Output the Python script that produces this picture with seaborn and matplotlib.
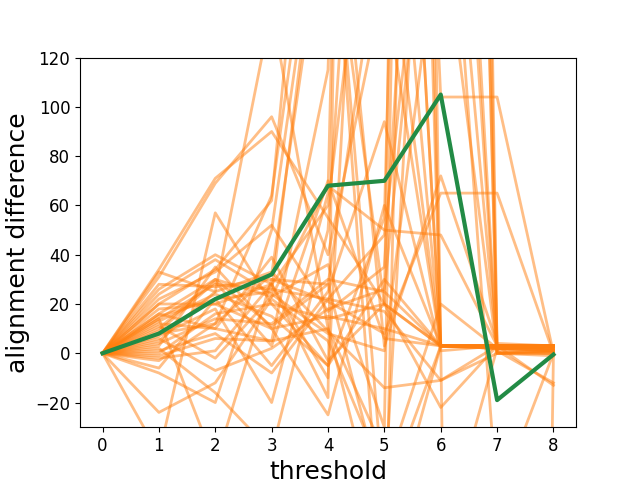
import numpy as np
import pandas as pd
import matplotlib
matplotlib.use("Agg")
import matplotlib.pyplot as plt
import seaborn as sns

thresholds = [0, 1, 2, 3, 4, 5, 6, 7, 8]

runs = [
    [0, 34, 71, 90, 55, 20, 3, 3, 3],
    [0, 31, 69, 96, 40, 150, 3, 2, 2],
    [0, 26, 40, 28, 60, 250, 3, 2, 1],
    [0, 22, 33, 52, 17, 35, 400, 0, -1],
    [0, 16, 30, 23, 68, 50, 48, 3, 2],
    [0, 14, 28, 26, 22, 17, -11, 0, 0],
    [0, 12, 10, 39, -3, 20, 1500, 1, -12],
    [0, 5, 25, 33, 9, -14, -11, 3, 3],
    [0, 3, 35, 10, -25, 60, 3, 3, 3],
    [0, 0, 16, 20, 14, 20, -22, 3, 3],
    [0, -1, 6, 5, 115, 800, 3, 2, 2],
    [0, -3, 12, 64, 230, 3, 72, 4, 3],
    [0, -6, 22, -5, 25, 94, 1, 3, 3],
    [0, -24, -12, 22, 5, -50, 20, 2, 1],
    [0, -41, 57, 20, -5, 30, 3, 3, 2],
    [0, 14, -45, 30, 28, 180, 3, 3, 3],
    [0, 20, 34, 62, 300, 600, 104, 104, 0],
    [0, 28, 27, 30, 21, 8, 65, 65, 0],
    [0, 10, 30, 11, 28, -60, 350, 0, 1],
    [0, 6, -7, 2, 18, 26, 250, 1, 0],
    [0, 2, -16, -40, 50, 400, 3, 3, 2],
    [0, 18, 20, 28, -18, 1500, 3, 3, 3],
    [0, 24, 38, 24, 8, 1, 180, 0, 1],
    [0, 9, 29, 3, 70, 6, 3, 2, 3],
    [0, -2, 1, 28, -10, 400, 3, 3, 3],
    [0, 33, 25, 140, 10, -80, 3, 3, 2],
    [0, 4, 14, 12, 30, 25, 3, -1500, 0],
    [0, 11, -2, 23, 36, -30, 1200, 2, 1],
    [0, 7, 18, -20, 65, 1000, 3, 3, 3],
    [0, 1, 8, -8, 22, 48, 250, -60, 0],
    [0, -8, -20, 50, 210, -100, 900, 0, 0],
    [0, 13, 24, 15, -5, 55, 900, 2, 1],
    [0, 15, 22, 25, 210, -60, 3, 3, 3],
    [0, 8, 12, 32, 190, 20, 3, 3, 3],
    [0, 16, 10, 5, 10, -40, -80, 2, 3],
    [0, 20, 20, 10, 15, 10, 3, 3, -13],
]

mean_curve = [0, 8, 22, 32, 68, 70, 105, -19, -0.5]

rows = []
for i, r in enumerate(runs):
    for t, v in zip(thresholds, r):
        rows.append({"run": i, "threshold": t, "diff": v})
df = pd.DataFrame(rows)
mdf = pd.DataFrame({"threshold": thresholds, "diff": mean_curve})

fig, ax = plt.subplots(figsize=(6.4, 4.8), dpi=100)
sns.lineplot(data=df, x="threshold", y="diff", units="run", estimator=None,
             color="#ff7f0e", alpha=0.5, linewidth=2, ax=ax, legend=False)
sns.lineplot(data=mdf, x="threshold", y="diff", color="#228b45",
             linewidth=3, ax=ax, legend=False)

ax.set_ylim(-30, 120)
ax.set_xlim(-0.4, 8.4)
ax.set_xticks(thresholds)
ax.set_yticks([-20, 0, 20, 40, 60, 80, 100, 120])
ax.tick_params(labelsize=12)
ax.set_xlabel("threshold", fontsize=18)
ax.set_ylabel("alignment difference", fontsize=18)

fig.savefig("out.png", dpi=100)
